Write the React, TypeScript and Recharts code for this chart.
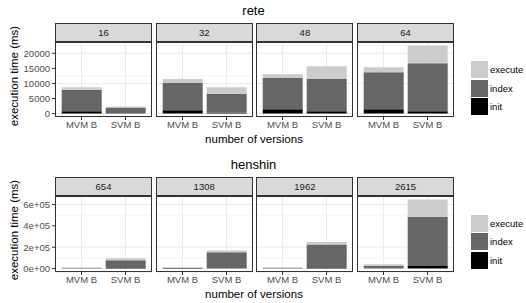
import { BarChart, Bar, XAxis, YAxis, CartesianGrid } from 'recharts';

const variants = ['MVM B', 'SVM B'];
const seriesOrder = ['init', 'index', 'execute'];
const legendOrder = ['execute', 'index', 'init'];
const fills: Record<string, string> = { init: '#000000', index: '#666666', execute: '#cccccc' };

// rete: one [MVM B, SVM B] pair per number of versions
const reteVersions = ['16', '32', '48', '64'];
const reteInit = [[760, 150], [1080, 300], [1400, 760], [1400, 760]];
const reteIndex = [[7140, 1900], [9080, 6300], [10380, 10700], [12330, 15890]];
const reteExecute = [[860, 250], [1300, 2160], [1300, 4220], [1620, 5950]];
const reteTicks = [0, 5000, 10000, 15000, 20000];
const reteMinor = [2500, 7500, 12500, 17500, 22500];

// henshin
const henshinVersions = ['654', '1308', '1962', '2615'];
const henshinInit = [[1500, 5000], [4000, 2000], [1500, 6000], [1500, 24000]];
const henshinIndex = [[4000, 72000], [3000, 150000], [6000, 220000], [23500, 462000]];
const henshinExecute = [[7000, 19000], [2500, 18000], [4500, 22000], [15000, 161000]];
const henshinTicks = [0, 200000, 400000, 600000];
const henshinTickLabels = ['0e+00', '2e+05', '4e+05', '6e+05'];
const henshinMinor = [100000, 300000, 500000];

const FONT = '"Liberation Sans", Arial, sans-serif';
const PANEL_W = 97;
const PANEL_STEP = 100.7;
const PANEL_X0 = 55;
const YAXIS_W = 45;

type Row = { variant: string; init: number; index: number; execute: number };

function buildRows(init: number[][], index: number[][], execute: number[][]): Row[][] {
  return init.map((pair, i) =>
    variants.map((v, j) => ({ variant: v, init: pair[j], index: index[i][j], execute: execute[i][j] }))
  );
}

interface FacetProps {
  title: string;
  top: number;
  versions: string[];
  rows: Row[][];
  ticks: number[];
  minor: number[];
  tickFormat: (v: number) => string;
  panelHeight: number;
}

function FacetRow({ title, top, versions, rows, ticks, minor, tickFormat, panelHeight }: FacetProps) {
  const max = Math.max(...rows.flat().map((r) => r.init + r.index + r.execute));
  const domain: [number, number] = [-0.05 * max, 1.05 * max];
  const stripTop = top + 23;
  const panelTop = stripTop + 19;

  return (
    <>
      <div style={{ position: 'absolute', left: 0, width: 507, top: top + 3, textAlign: 'center', fontSize: 13, color: '#000' }}>
        {title}
      </div>
      {versions.map((ver, i) => {
        const left = PANEL_X0 + i * PANEL_STEP;
        const first = i === 0;
        return (
          <div key={ver}>
            <div
              style={{
                position: 'absolute', left, top: stripTop, width: PANEL_W, height: 19, boxSizing: 'border-box',
                background: '#d9d9d9', border: '1px solid #333333', fontSize: 9.5, color: '#1a1a1a',
                textAlign: 'center', lineHeight: '17px',
              }}
            >
              {ver}
            </div>
            <div style={{ position: 'absolute', left: first ? left - YAXIS_W : left, top: panelTop }}>
              <BarChart
                width={PANEL_W + (first ? YAXIS_W : 0)}
                height={panelHeight + 20}
                data={rows[i]}
                margin={{ top: 0, right: 0, bottom: 0, left: 0 }}
                barCategoryGap="5%"
              >
                <CartesianGrid horizontal vertical={false} horizontalValues={minor} stroke="#f4f4f4" />
                <CartesianGrid stroke="#ebebeb" />
                <XAxis
                  dataKey="variant"
                  type="category"
                  interval={0}
                  height={20}
                  padding={{ left: 4.5, right: 4.5 }}
                  axisLine={false}
                  tickSize={3}
                  tickMargin={1.5}
                  tickLine={{ stroke: '#333333' }}
                  tick={{ fill: '#4d4d4d', fontSize: 9.5, fontFamily: FONT }}
                />
                <YAxis
                  type="number"
                  domain={domain}
                  ticks={ticks}
                  allowDataOverflow
                  hide={!first}
                  width={YAXIS_W}
                  axisLine={false}
                  tickSize={3}
                  tickMargin={2}
                  tickLine={{ stroke: '#333333' }}
                  tickFormatter={tickFormat}
                  tick={{ fill: '#4d4d4d', fontSize: 9.5, fontFamily: FONT }}
                />
                {seriesOrder.map((s) => (
                  <Bar key={s} dataKey={s} stackId="a" fill={fills[s]} isAnimationActive={false} />
                ))}
              </BarChart>
            </div>
            <div
              style={{
                position: 'absolute', left, top: panelTop, width: PANEL_W, height: panelHeight,
                boxSizing: 'border-box', border: '1px solid #333333', pointerEvents: 'none',
              }}
            />
          </div>
        );
      })}
      <div style={{ position: 'absolute', left: 55, width: 398, top: panelTop + panelHeight + 16, textAlign: 'center', fontSize: 11.5 }}>
        number of versions
      </div>
      <div
        style={{
          position: 'absolute', left: 14 - 60, top: top + 77 - 7, width: 120, textAlign: 'center', fontSize: 11.5,
          transform: 'rotate(-90deg)', whiteSpace: 'nowrap',
        }}
      >
        execution time (ms)
      </div>
      {legendOrder.map((s, k) => (
        <div key={s}>
          <div style={{ position: 'absolute', left: 471, top: top + 61 + k * 18.5, width: 17, height: 17, background: fills[s] }} />
          <div style={{ position: 'absolute', left: 490, top: top + 61 + k * 18.5 + 3, fontSize: 9.5, color: '#000', whiteSpace: 'nowrap' }}>
            {s}
          </div>
        </div>
      ))}
    </>
  );
}

export default function App() {
  const reteRows = buildRows(reteInit, reteIndex, reteExecute);
  const henshinRows = buildRows(henshinInit, henshinIndex, henshinExecute);
  return (
    <div
      style={{
        position: 'absolute', left: 0, top: 0, width: 526, height: 303, overflow: 'hidden',
        background: '#ffffff', fontFamily: FONT,
      }}
    >
      <FacetRow
        title="rete"
        top={0}
        versions={reteVersions}
        rows={reteRows}
        ticks={reteTicks}
        minor={reteMinor}
        tickFormat={(v) => String(v)}
        panelHeight={75}
      />
      <FacetRow
        title="henshin"
        top={153.5}
        versions={henshinVersions}
        rows={henshinRows}
        ticks={henshinTicks}
        minor={henshinMinor}
        tickFormat={(v) => henshinTickLabels[henshinTicks.indexOf(v)] ?? String(v)}
        panelHeight={76}
      />
    </div>
  );
}
